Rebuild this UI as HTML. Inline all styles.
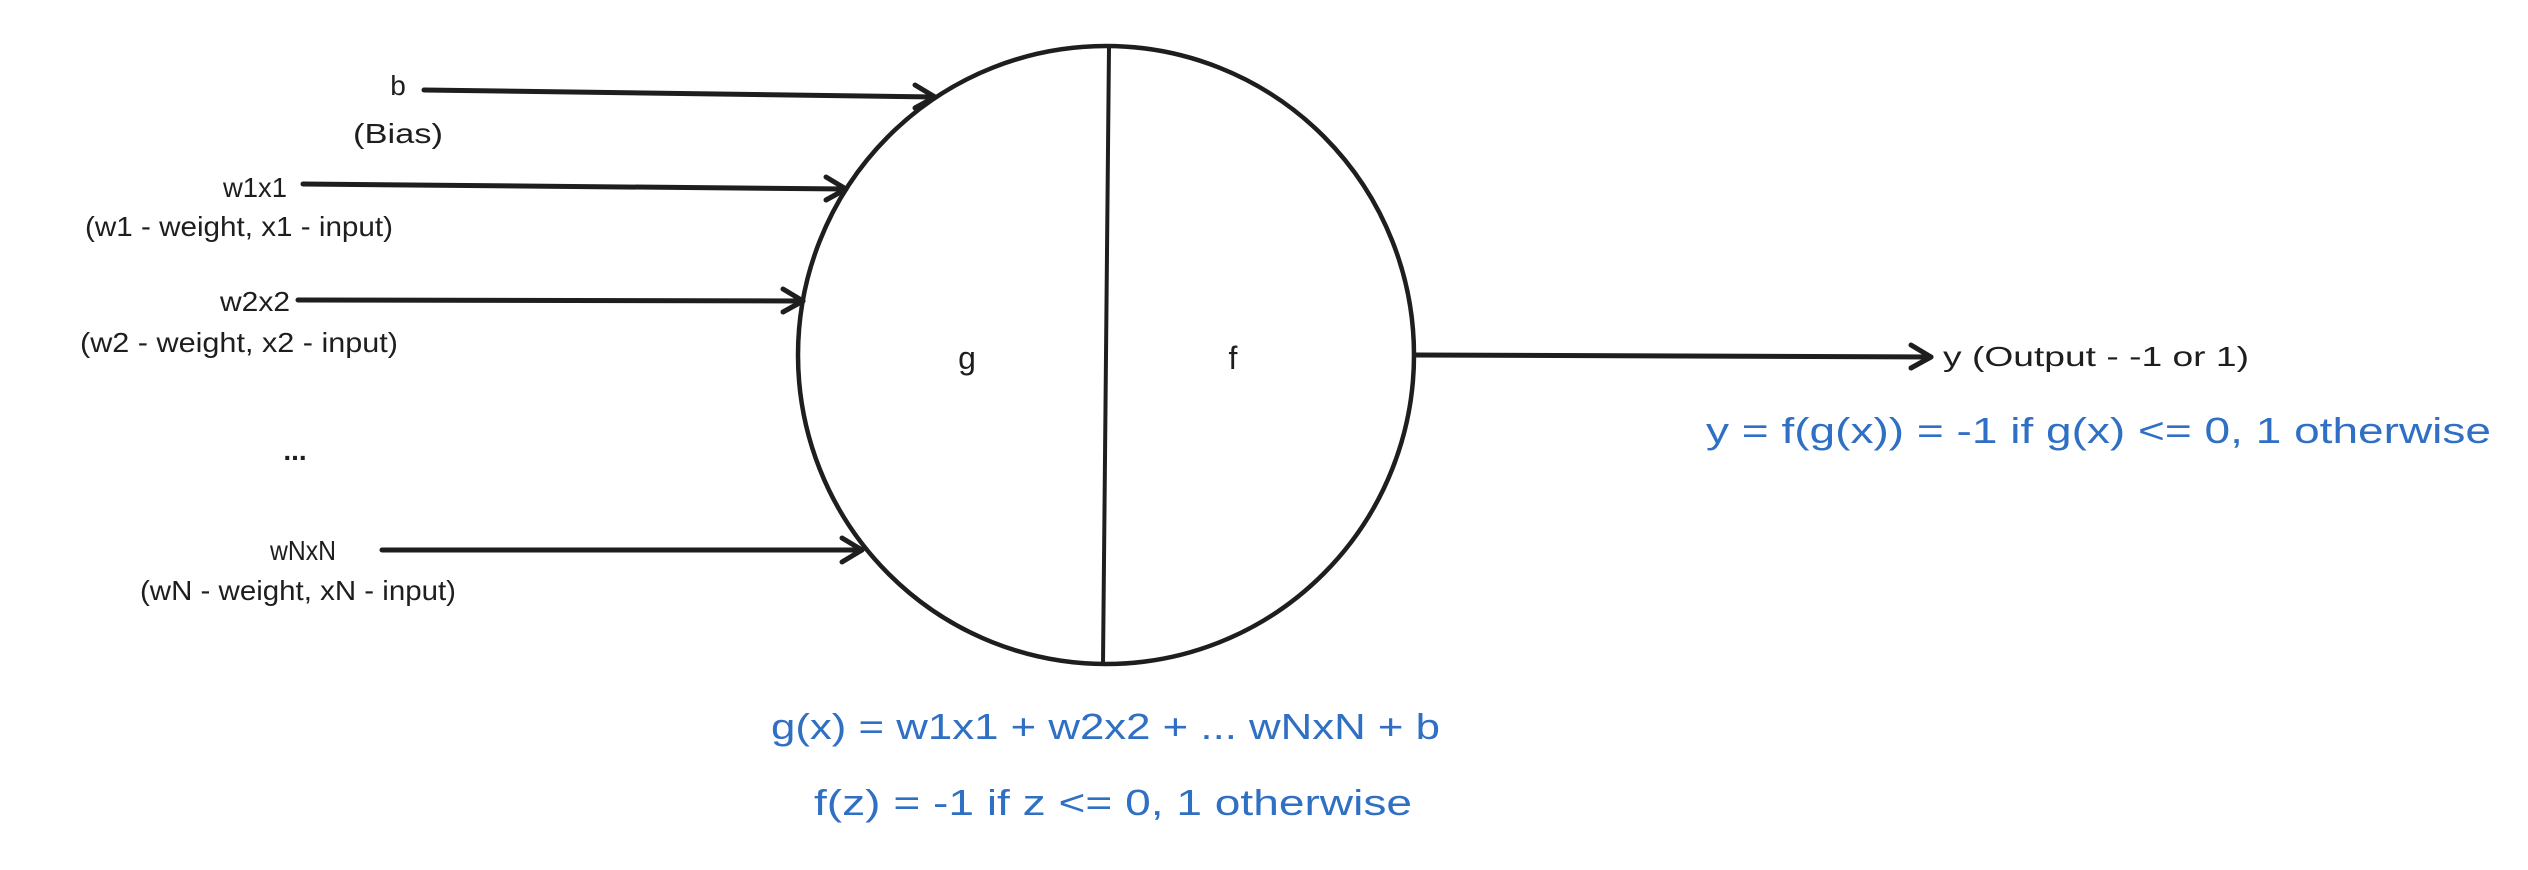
<!DOCTYPE html>
<html><head><meta charset="utf-8"><style>html,body{margin:0;padding:0;background:#fff}svg{display:block}</style></head>
<body>
<svg width="2528" height="870" viewBox="0 0 2528 870" xmlns="http://www.w3.org/2000/svg">
<g fill="none" stroke="#1e1e1e" stroke-linecap="round" stroke-linejoin="round">
<ellipse cx="1106" cy="355" rx="308" ry="309" stroke-width="4.5"/>
<line x1="1109" y1="47" x2="1103" y2="664" stroke-width="4"/>
<g stroke-width="5">
<path d="M424 90 L935 97"/><path d="M915 85 L935 97 L915 108"/>
<path d="M303 184 L846 189"/><path d="M826 177 L846 189 L826 200"/>
<path d="M298 300 L803 301"/><path d="M783 289 L803 301 L783 312"/>
<path d="M382 550 L862 550"/><path d="M842 538 L862 550 L842 562"/>
<path d="M1415 355 L1931 357"/><path d="M1911 345 L1931 357 L1911 368"/>
</g>
</g>
<g font-family="Liberation Sans, sans-serif" fill="#1e1e1e" font-size="28" text-anchor="middle">
<text x="398" y="95">b</text>
<text x="398" y="143" textLength="90" lengthAdjust="spacingAndGlyphs">(Bias)</text>
<text x="255" y="197" textLength="64" lengthAdjust="spacingAndGlyphs">w1x1</text>
<text x="239" y="236" textLength="308" lengthAdjust="spacingAndGlyphs">(w1 - weight, x1 - input)</text>
<text x="255" y="311" textLength="70" lengthAdjust="spacingAndGlyphs">w2x2</text>
<text x="239" y="352" textLength="318" lengthAdjust="spacingAndGlyphs">(w2 - weight, x2 - input)</text>
<text x="295" y="460" font-weight="bold">...</text>
<text x="303" y="560" textLength="66" lengthAdjust="spacingAndGlyphs">wNxN</text>
<text x="298" y="600" textLength="316" lengthAdjust="spacingAndGlyphs">(wN - weight, xN - input)</text>
<text x="967" y="369" font-size="32">g</text>
<text x="1233" y="369" font-size="32">f</text>
<text x="1943" y="366" text-anchor="start" textLength="306" lengthAdjust="spacingAndGlyphs">y (Output - -1 or 1)</text>
</g>
<g font-family="Liberation Sans, sans-serif" fill="#2f6fc4" font-size="36" text-anchor="start">
<text x="771" y="739" textLength="669" lengthAdjust="spacingAndGlyphs">g(x) = w1x1 + w2x2 + ... wNxN + b</text>
<text x="814" y="815" textLength="598" lengthAdjust="spacingAndGlyphs">f(z) = -1 if z &lt;= 0, 1 otherwise</text>
<text x="1706" y="443" textLength="785" lengthAdjust="spacingAndGlyphs">y = f(g(x)) = -1 if g(x) &lt;= 0, 1 otherwise</text>
</g>
</svg>
</body></html>
